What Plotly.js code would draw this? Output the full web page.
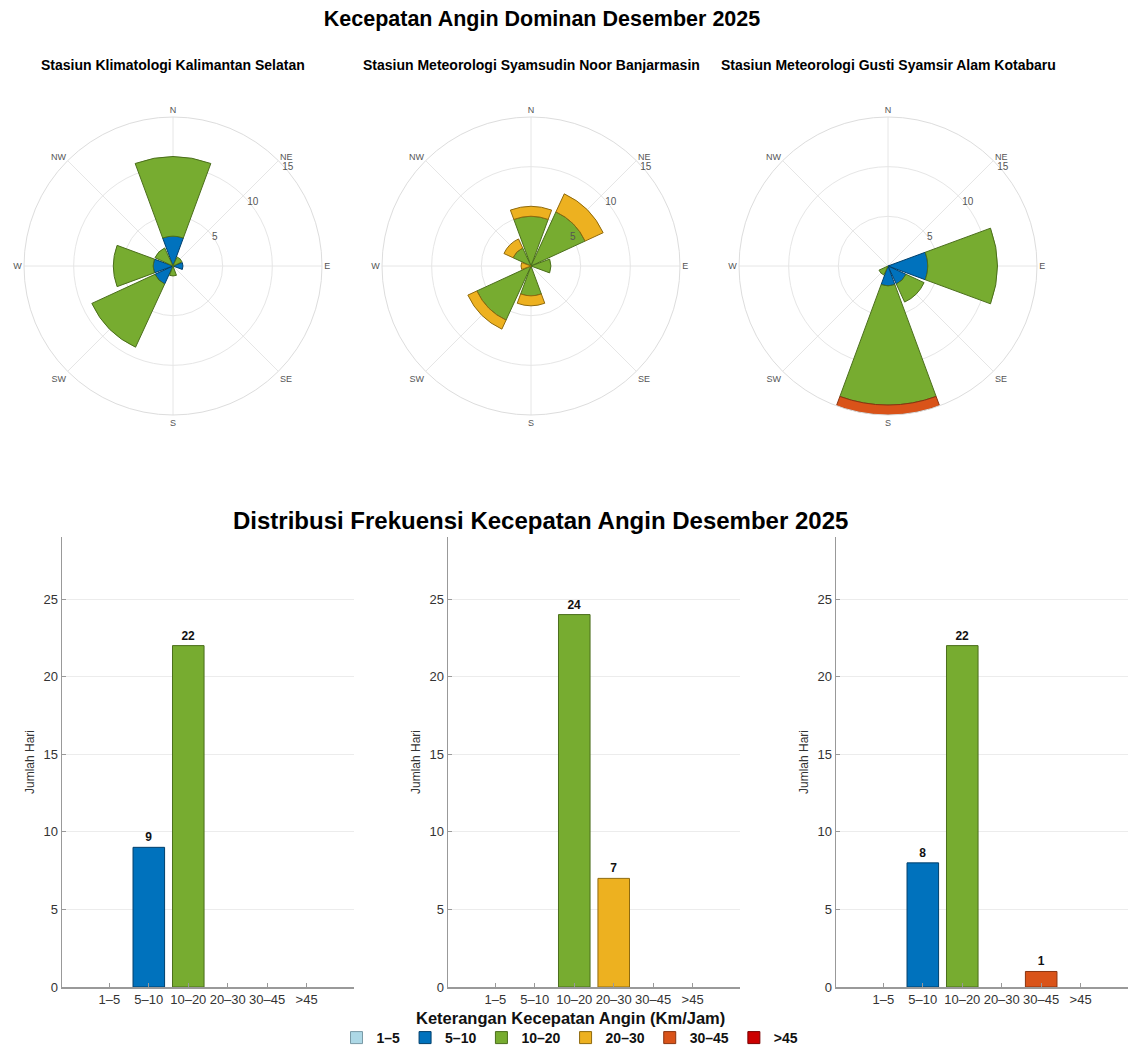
<!DOCTYPE html>
<html>
<head>
<meta charset="utf-8">
<script src="https://cdn.plot.ly/plotly-3.0.1.min.js"></script>
<style>html,body{margin:0;padding:0;background:#fff;}#chart{width:1129px;height:1046px;}</style>
</head>
<body>
<div id="chart"></div>
<script>
// ---------- data ----------
const directions = ['N', 'NE', 'E', 'SE', 'S', 'SW', 'W', 'NW'];
const speedClasses = ['1–5', '5–10', '10–20', '20–30', '30–45', '>45'];
const stationNames = [
  'Stasiun Klimatologi Kalimantan Selatan',
  'Stasiun Meteorologi Syamsudin Noor Banjarmasin',
  'Stasiun Meteorologi Gusti Syamsir Alam Kotabaru'
];

// wind rose counts per direction (N, NE, E, SE, S, SW, W, NW), one array per speed class
const roseKalsel_1_5   = [0, 0, 0, 0, 0, 0, 0, 0];
const roseKalsel_5_10  = [3, 0, 1, 0, 0, 2, 2, 0];
const roseKalsel_10_20 = [8, 1, 0, 0, 1, 7, 4, 2];
const roseKalsel_20_30 = [0, 0, 0, 0, 0, 0, 0, 0];
const roseKalsel_30_45 = [0, 0, 0, 0, 0, 0, 0, 0];
const roseKalsel_45    = [0, 0, 0, 0, 0, 0, 0, 0];

const roseBjm_1_5   = [0, 0, 0, 0, 0, 0, 0, 0];
const roseBjm_5_10  = [0, 0, 0, 0, 0, 0, 0, 0];
const roseBjm_10_20 = [5, 6, 2, 0, 3, 6, 0, 2];
const roseBjm_20_30 = [1, 2, 0, 0, 1, 1, 1, 1];
const roseBjm_30_45 = [0, 0, 0, 0, 0, 0, 0, 0];
const roseBjm_45    = [0, 0, 0, 0, 0, 0, 0, 0];

const roseKtb_1_5   = [0, 0, 0, 0, 0, 0, 0, 0];
const roseKtb_5_10  = [0, 0, 4, 2, 2, 0, 0, 0];
const roseKtb_10_20 = [0, 0, 7, 2, 12, 1, 0, 0];
const roseKtb_20_30 = [0, 0, 0, 0, 0, 0, 0, 0];
const roseKtb_30_45 = [0, 0, 0, 0, 1, 0, 0, 0];
const roseKtb_45    = [0, 0, 0, 0, 0, 0, 0, 0];

// frequency distribution (days) per speed class
const freqKalsel = [0, 9, 22, 0, 0, 0];
const freqBjm    = [0, 0, 24, 7, 0, 0];
const freqKtb    = [0, 8, 22, 0, 1, 0];

// ---------- styling ----------
const classColors = ['#add8e6', '#0072bd', '#77ac30', '#edb120', '#d95319', '#cc0000'];
const classEdges  = ['#7a9aa6', '#003f6b', '#4b6e1c', '#8f6a0e', '#8a3410', '#7a0000'];
const FONT = 'Liberation Sans, Arial, Helvetica, sans-serif';

const roses = [
  [roseKalsel_1_5, roseKalsel_5_10, roseKalsel_10_20, roseKalsel_20_30, roseKalsel_30_45, roseKalsel_45],
  [roseBjm_1_5, roseBjm_5_10, roseBjm_10_20, roseBjm_20_30, roseBjm_30_45, roseBjm_45],
  [roseKtb_1_5, roseKtb_5_10, roseKtb_10_20, roseKtb_20_30, roseKtb_30_45, roseKtb_45]
];
const freqs = [freqKalsel, freqBjm, freqKtb];

const W = 1129, H = 1046;
const px = v => v / W;
const py = v => 1 - v / H;

const polarCenters = [173, 531, 888];
const polarCy = 266, polarR = 149;
const barX = [[62, 354], [448, 740], [836, 1128]];
const barTop = 537, barBottom = 987;

const traces = [];
roses.forEach((rose, s) => {
  rose.forEach((vals, c) => {
    traces.push({
      type: 'barpolar',
      subplot: s === 0 ? 'polar' : 'polar' + (s + 1),
      theta: directions,
      r: vals,
      name: speedClasses[c],
      legendgroup: speedClasses[c],
      showlegend: s === 0,
      marker: { color: classColors[c], line: { color: classEdges[c], width: 1 } },
      hoverinfo: 'theta+r+name'
    });
  });
});

freqs.forEach((vals, s) => {
  traces.push({
    type: 'bar',
    xaxis: s === 0 ? 'x' : 'x' + (s + 1),
    yaxis: s === 0 ? 'y' : 'y' + (s + 1),
    x: speedClasses,
    y: vals,
    width: 0.8,
    text: vals.map(v => v > 0 ? String(v) : ''),
    textposition: 'outside',
    cliponaxis: false,
    textfont: { family: FONT, size: 12, color: '#111', weight: 'bold' },
    marker: { color: classColors, line: { color: classEdges, width: vals.map(v => v > 0 ? 1 : 0) } },
    showlegend: false,
    hoverinfo: 'x+y'
  });
});

function polarLayout(cx) {
  return {
    domain: { x: [px(cx - polarR), px(cx + polarR)], y: [py(polarCy + polarR), py(polarCy - polarR)] },
    bgcolor: 'white',
    barmode: 'stack',
    angularaxis: {
      type: 'category', categoryarray: directions, direction: 'clockwise', rotation: 90,
      showline: true, linecolor: '#dddddd', linewidth: 1,
      showgrid: true, gridcolor: '#e6e6e6', gridwidth: 1, ticks: '',
      tickfont: { family: FONT, size: 9, color: '#555' }
    },
    radialaxis: {
      range: [0, 15], tickvals: [5, 10, 15], angle: 45, showline: false, ticks: '',
      showgrid: true, gridcolor: '#e6e6e6', gridwidth: 1, tickangle: 45,
      tickfont: { family: FONT, size: 10, color: '#555' }
    }
  };
}

function xLayout(i) {
  return {
    domain: [px(barX[i][0]), px(barX[i][1])],
    anchor: i === 0 ? 'y' : 'y' + (i + 1),
    type: 'category', categoryarray: speedClasses, range: [-1.2, 6.2],
    showline: true, linecolor: '#999', linewidth: 1.5, mirror: false,
    ticks: 'inside', ticklen: 4, tickcolor: '#999', tickwidth: 1,
    showgrid: false, zeroline: false, fixedrange: true,
    tickfont: { family: FONT, size: 13, color: '#333' }
  };
}
function yLayout(i) {
  return {
    domain: [py(barBottom), py(barTop)],
    anchor: i === 0 ? 'x' : 'x' + (i + 1),
    range: [0, 29], tickvals: [0, 5, 10, 15, 20, 25],
    showline: true, linecolor: '#999', linewidth: 1.5,
    ticks: 'inside', ticklen: 4, tickcolor: '#999', tickwidth: 1,
    showgrid: true, gridcolor: '#ececec', gridwidth: 1, zeroline: false, fixedrange: true,
    tickfont: { family: FONT, size: 13, color: '#333' },
    title: { text: 'Jumlah Hari', font: { family: FONT, size: 12, color: '#333' }, standoff: 6 }
  };
}

const annotations = stationNames.map((n, i) => ({
  text: '<b>' + n + '</b>', xref: 'paper', yref: 'paper',
  x: px(polarCenters[i]), y: py(65), xanchor: 'center', yanchor: 'middle',
  showarrow: false, font: { family: FONT, size: 14, color: '#000' }
}));
annotations.push({
  text: '<b>Distribusi Frekuensi Kecepatan Angin Desember 2025</b>', xref: 'paper', yref: 'paper',
  x: px(540), y: py(520), xanchor: 'center', yanchor: 'middle', showarrow: false,
  font: { family: FONT, size: 24, color: '#000' }
});
// legend heading
annotations.push({
  text: '<b>Keterangan Kecepatan Angin (Km/Jam)</b>', xref: 'paper', yref: 'paper',
  x: px(570), y: py(1018), xanchor: 'center', yanchor: 'middle', showarrow: false,
  font: { family: FONT, size: 16.5, color: '#111' }
});

const layout = {
  width: W, height: H,
  margin: { l: 0, r: 0, t: 0, b: 0, autoexpand: false },
  paper_bgcolor: 'white', plot_bgcolor: 'white',
  font: { family: FONT },
  title: {
    text: '<b>Kecepatan Angin Dominan Desember 2025</b>',
    x: px(542), xanchor: 'center', y: py(18), yanchor: 'middle', yref: 'container',
    font: { family: FONT, size: 21.5, color: '#000' }
  },
  polar: polarLayout(polarCenters[0]),
  polar2: polarLayout(polarCenters[1]),
  polar3: polarLayout(polarCenters[2]),
  xaxis: xLayout(0), yaxis: yLayout(0),
  xaxis2: xLayout(1), yaxis2: yLayout(1),
  xaxis3: xLayout(2), yaxis3: yLayout(2),
  bargap: 0.2,
  showlegend: true,
  legend: {
    orientation: 'h', x: px(570), xanchor: 'center', y: py(1022), yanchor: 'top',
    font: { family: FONT, size: 14, color: '#111', weight: 'bold' },
    traceorder: 'normal', itemwidth: 30, tracegroupgap: 0,
    bgcolor: 'rgba(0,0,0,0)'
  },
  annotations: annotations
};

Plotly.newPlot('chart', traces, layout, { displayModeBar: false, staticPlot: true });
</script>
</body>
</html>
